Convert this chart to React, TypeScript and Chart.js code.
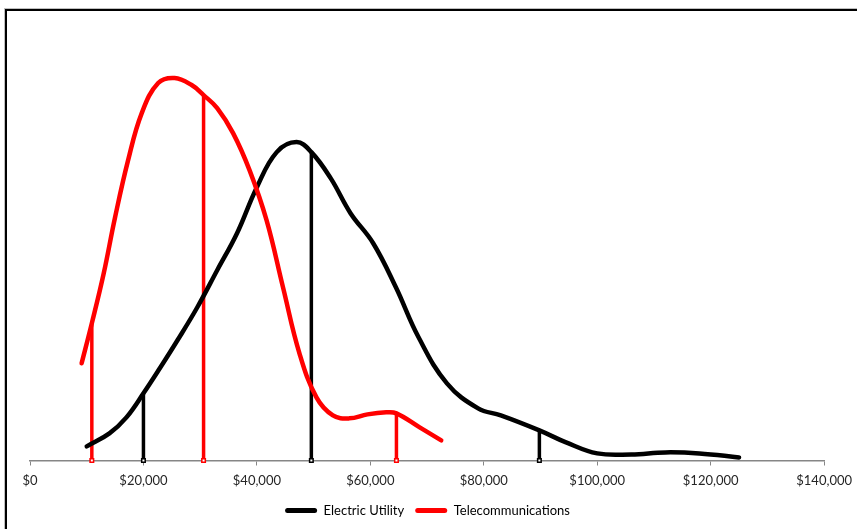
import React, { useEffect, useRef } from "react";
import { Chart, registerables } from "chart.js";

Chart.register(...registerables);

// Salary ($) and relative density readings
const electricX = [10000, 14000, 17000, 20000, 23000, 26000, 29500, 33000, 36500, 40000, 43500, 47000, 49600, 53000, 56500, 60500, 64500, 68500, 73500, 79000, 83000, 89800, 94500, 100000, 106000, 112000, 118000, 125000];
const electricY = [0.14, 0.27, 0.43, 0.67, 0.93, 1.2, 1.53, 1.9, 2.27, 2.73, 3.08, 3.18, 3.08, 2.82, 2.47, 2.17, 1.73, 1.23, 0.77, 0.52, 0.45, 0.3, 0.18, 0.07, 0.06, 0.08, 0.07, 0.03];

const telecomX = [9100, 10900, 13000, 15000, 17300, 19700, 22600, 25500, 28500, 30600, 33000, 35800, 38700, 41700, 44600, 47500, 50500, 53400, 56300, 59500, 62800, 64600, 68700, 72500];
const telecomY = [0.97, 1.37, 1.87, 2.43, 3.0, 3.47, 3.77, 3.82, 3.75, 3.65, 3.52, 3.27, 2.9, 2.4, 1.73, 1.07, 0.63, 0.45, 0.42, 0.46, 0.48, 0.47, 0.33, 0.2];

// Marker lines (salary, density at curve)
const electricMarkX = [20000, 49600, 89800];
const electricMarkY = [0.67, 3.08, 0.3];
const telecomMarkX = [10900, 30600, 64600];
const telecomMarkY = [1.37, 3.65, 0.47];

const xTicks = [0, 20000, 40000, 60000, 80000, 100000, 120000, 140000];

const seriesNames = ["Electric Utility", "Telecommunications"];
const BLACK = "#000000";
const RED = "#ff0000";

const frame = {
  id: "frame",
  beforeDraw(chart: any) {
    const ctx = chart.ctx;
    ctx.save();
    ctx.fillStyle = "#ffffff";
    ctx.fillRect(0, 0, chart.width, chart.height);
    ctx.strokeStyle = "#bfbfbf";
    ctx.lineWidth = 1;
    ctx.strokeRect(4.5, 8.5, chart.width + 20, chart.height + 20);
    ctx.strokeStyle = "#000000";
    ctx.lineWidth = 2;
    ctx.strokeRect(6, 10, chart.width + 20, chart.height + 20);
    ctx.restore();
  },
};

function markDatasets(xs: number[], ys: number[], color: string) {
  return xs.map((x, i) => ({
    label: "mark",
    data: [
      { x, y: 0 },
      { x, y: ys[i] },
    ],
    borderColor: color,
    backgroundColor: "#ffffff",
    borderWidth: 3.5,
    pointStyle: "rect",
    pointRadius: [2.5, 0],
    pointBorderWidth: 1.5,
    pointBorderColor: color,
    pointBackgroundColor: "#ffffff",
    tension: 0,
    clip: false as any,
    order: 3,
  }));
}

export default function App() {
  const ref = useRef<HTMLCanvasElement | null>(null);
  useEffect(() => {
    if (!ref.current) return;
    const chart = new Chart(ref.current, {
      type: "line",
      data: {
        datasets: [
          {
            label: seriesNames[0],
            data: electricX.map((x, i) => ({ x, y: electricY[i] })),
            borderColor: BLACK,
            backgroundColor: BLACK,
            borderWidth: 4.5,
            pointRadius: 0,
            tension: 0.4,
            borderCapStyle: "round",
            borderJoinStyle: "round",
            order: 2,
          },
          {
            label: seriesNames[1],
            data: telecomX.map((x, i) => ({ x, y: telecomY[i] })),
            borderColor: RED,
            backgroundColor: RED,
            borderWidth: 4.5,
            pointRadius: 0,
            tension: 0.4,
            borderCapStyle: "round",
            borderJoinStyle: "round",
            order: 1,
          },
          ...markDatasets(electricMarkX, electricMarkY, BLACK),
          ...markDatasets(telecomMarkX, telecomMarkY, RED),
        ] as any,
      },
      options: {
        animation: false,
        responsive: false,
        maintainAspectRatio: false,
        layout: { padding: { left: 30, right: 32, top: 20, bottom: 2 } },
        plugins: {
          tooltip: { enabled: false },
          legend: {
            position: "bottom",
            labels: {
              filter: (item: any) => item.datasetIndex < 2,
              sort: (a: any, b: any) => a.datasetIndex - b.datasetIndex,
              generateLabels: (c: any) =>
                c.data.datasets.map((d: any, i: number) => ({
                  text: d.label,
                  fillStyle: d.borderColor,
                  strokeStyle: d.borderColor,
                  lineWidth: 0,
                  borderRadius: 2.5,
                  datasetIndex: i,
                  hidden: false,
                  fontColor: "#000000",
                })),
              boxWidth: 32,
              boxHeight: 5,
              useBorderRadius: true,
              padding: 11,
              color: "#000000",
              font: { family: "Lato", size: 13 },
            },
          },
        },
        scales: {
          x: {
            type: "linear",
            min: 0,
            max: 140000,
            afterBuildTicks: (axis: any) => {
              axis.ticks = xTicks.map((v) => ({ value: v }));
            },
            afterFit: (axis: any) => {
              axis.height = axis.height - 1;
            },
            ticks: {
              callback: (v: any) => "$" + Number(v).toLocaleString("en-US"),
              color: "#262626",
              font: { family: "Lato", size: 13 },
              padding: 5,
              maxRotation: 0,
            },
            grid: {
              drawOnChartArea: false,
              drawTicks: true,
              tickLength: 8,
              tickBorderDash: [4, 40],
              color: "#868686",
              lineWidth: 1,
            },
            border: { display: true, color: "#868686", width: 1.5 },
          },
          y: {
            display: false,
            min: 0,
            max: 4.4,
          },
        },
      },
      plugins: [frame],
    });
    return () => chart.destroy();
  }, []);
  return (
    <div style={{ position: "absolute", left: 0, top: 0, width: 857, height: 529 }}>
      <canvas ref={ref} width={857} height={529} style={{ width: 857, height: 529 }} />
    </div>
  );
}
